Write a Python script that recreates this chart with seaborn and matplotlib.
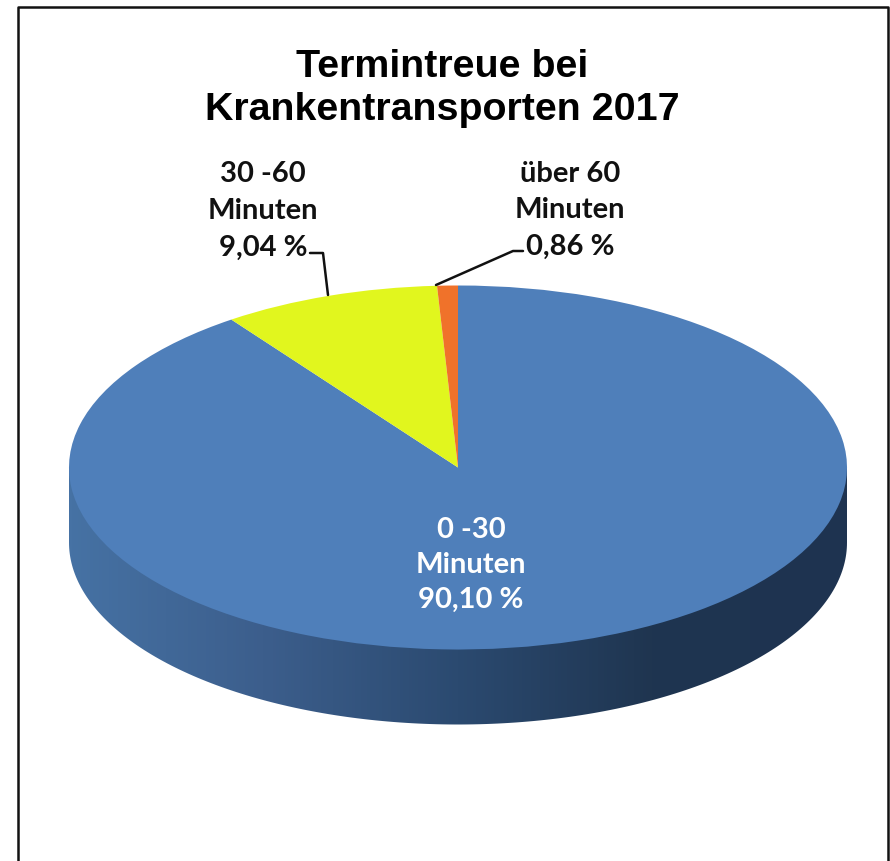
import matplotlib
matplotlib.use('Agg')
import matplotlib.pyplot as plt
import numpy as np
import seaborn as sns
from matplotlib.colors import LinearSegmentedColormap
from matplotlib.patches import Polygon
from matplotlib.transforms import Affine2D

title = 'Termintreue bei\nKrankentransporten 2017'
ranges = ['0 -30', '30 -60', 'über 60']
shares = [90.10, 9.04, 0.86]
slice_colors = ['#4F7FBA', '#E1F61E', '#F0722A']
wall_colors = ['#4672A4', '#3C5E8C', '#2B4A70', '#1F3550', '#1E3350']

W, H = 890, 862
cx, cy = 458, H - 468.5
rx, ry, depth = 389, 182, 75

sns.set_theme(style='white')
plt.rcParams['font.family'] = ['Lato', 'DejaVu Sans']

fig = plt.figure(figsize=(W / 100, H / 100), dpi=100)
ax = fig.add_axes([0, 0, 1, 1])

# pie is drawn on a unit circle, then squashed to an ellipse
wedges, _ = ax.pie(shares, colors=slice_colors, startangle=90, counterclock=False)
squash = Affine2D().scale(rx, ry).translate(cx, cy) + ax.transData
for w in wedges:
    w.set_transform(squash)
    w.set_zorder(3)
    w.set_linewidth(0)

ax.set_aspect('auto')
ax.set_xlim(0, W)
ax.set_ylim(0, H)
ax.axis('off')

# side wall of the disc with a left to right gradient
t = np.linspace(np.pi, 2 * np.pi, 200)
low_x = cx + rx * np.cos(t)
low_y = cy + ry * np.sin(t)
wall = Polygon(
    np.r_[np.c_[low_x, low_y - depth], np.c_[low_x[::-1], low_y[::-1] + ry * 0.2]],
    closed=True, transform=ax.transData, facecolor='none', edgecolor='none',
)
ax.add_patch(wall)
cmap = LinearSegmentedColormap.from_list('wall', wall_colors)
img = ax.imshow(
    np.linspace(0, 1, 256)[None, :], cmap=cmap, aspect='auto',
    extent=(cx - rx, cx + rx, cy - ry - depth, cy), zorder=2,
)
img.set_clip_path(wall)
ax.set_xlim(0, W)
ax.set_ylim(0, H)

# chart frame, open at the bottom
ax.plot([18, 18, 888, 888], [0, H - 8, H - 8, 0], color='#111111', lw=1.8, zorder=1, clip_on=False)

ax.text(442, H - 88.5, title, ha='center', va='center', fontsize=28.4, fontweight='bold',
        family='Liberation Sans', color='black', linespacing=1.22)


def pct(v):
    return f'{v:.2f}'.replace('.', ',') + ' %'


label_color = '#111111'
ax.text(471, H - 565, f'{ranges[0]}\nMinuten\n{pct(shares[0])}', ha='center', va='center',
        fontsize=21, fontweight='bold', color='white', linespacing=1.43, zorder=5)
ax.text(263, H - 211, f'{ranges[1]}\nMinuten\n{pct(shares[1])}', ha='center', va='center',
        fontsize=21, fontweight='bold', color=label_color, linespacing=1.52, zorder=5)
ax.text(570, H - 210, f'{ranges[2]}\nMinuten\n{pct(shares[2])}', ha='center', va='center',
        fontsize=21, fontweight='bold', color=label_color, linespacing=1.5, zorder=5)

# leader lines
ax.plot([310, 323, 328], [H - 254, H - 254, H - 296], color='#111111', lw=1.8, zorder=4)
ax.plot([436, 513, 523], [H - 286, H - 252, H - 252], color='#111111', lw=1.8, zorder=4)

fig.savefig('out.png', dpi=100, facecolor='white')
plt.close(fig)
